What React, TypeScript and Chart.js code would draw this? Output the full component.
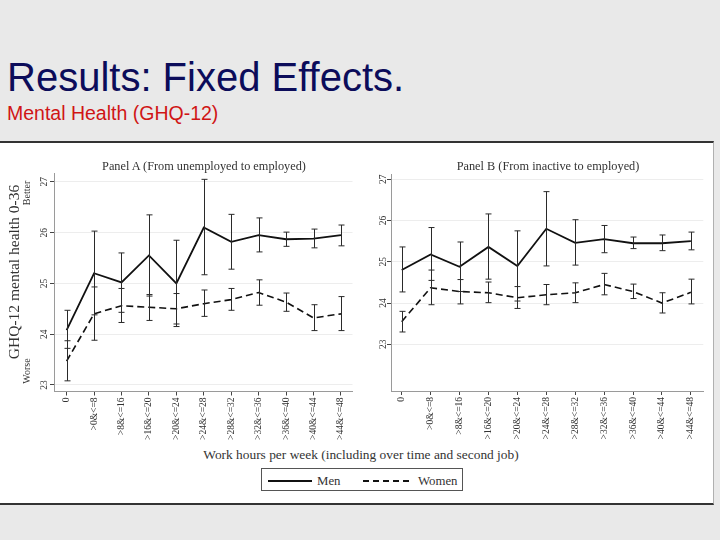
import React, { useEffect, useRef } from "react";
import { Chart, registerables } from "chart.js";

Chart.register(...registerables);

const SERIF = "'Liberation Serif', 'Times New Roman', serif";
const SANS = "'Liberation Sans', Arial, sans-serif";

const hourLabels = [
  "0", ">0&<=8", ">8&<=16", ">16&<=20", ">20&<=24", ">24&<=28",
  ">28&<=32", ">32&<=36", ">36&<=40", ">40&<=44", ">44&<=48",
];
const yTickValues = [23, 24, 25, 26, 27];

// Panel A (From unemployed to employed)
const menA = [24.08, 25.2, 25.02, 25.55, 25.0, 26.1, 25.82, 25.95, 25.87, 25.88, 25.95];
const menALow = [23.72, 24.38, 24.43, 24.75, 24.15, 25.17, 25.28, 25.62, 25.73, 25.7, 25.74];
const menAHigh = [24.47, 26.03, 25.6, 26.35, 25.85, 27.05, 26.36, 26.29, 26.01, 26.07, 26.15];
const womenA = [23.47, 24.4, 24.56, 24.53, 24.5, 24.6, 24.68, 24.82, 24.63, 24.32, 24.4];
const womenALow = [23.08, 23.88, 24.23, 24.27, 24.2, 24.35, 24.47, 24.57, 24.45, 24.07, 24.07];
const womenAHigh = [23.87, 24.93, 24.9, 24.78, 24.8, 24.87, 24.9, 25.07, 24.81, 24.58, 24.74];

// Panel B (From inactive to employed)
const menB = [24.8, 25.18, 24.88, 25.36, 24.9, 25.8, 25.46, 25.55, 25.45, 25.45, 25.5];
const menBLow = [24.27, 24.55, 24.28, 24.58, 24.05, 24.9, 24.92, 25.22, 25.32, 25.27, 25.29];
const menBHigh = [25.36, 25.83, 25.48, 26.16, 25.75, 26.7, 26.02, 25.88, 25.6, 25.65, 25.72];
const womenB = [23.55, 24.37, 24.28, 24.25, 24.13, 24.2, 24.25, 24.45, 24.28, 24.0, 24.26];
const womenBLow = [23.3, 23.96, 23.98, 24.01, 23.87, 23.96, 24.01, 24.2, 24.11, 23.76, 23.98];
const womenBHigh = [23.8, 24.8, 24.57, 24.51, 24.4, 24.45, 24.49, 24.72, 24.46, 24.25, 24.58];

type PanelSpec = {
  men: number[]; menLow: number[]; menHigh: number[];
  women: number[]; womenLow: number[]; womenHigh: number[];
  yMin: number; yMax: number; xMin: number; xMax: number;
  yAxisWidth: number; xAxisHeight: number;
  padTop: number; padRight: number; tickLabelX: number;
};

const panelA: PanelSpec = {
  men: menA, menLow: menALow, menHigh: menAHigh,
  women: womenA, womenLow: womenALow, womenHigh: womenAHigh,
  yMin: 22.87, yMax: 27.165, xMin: -0.46, xMax: 10.42,
  yAxisWidth: 54, xAxisHeight: 53.5, padTop: 23.5, padRight: 7.5, tickLabelX: 44,
};

const panelB: PanelSpec = {
  men: menB, menLow: menBLow, menHigh: menBHigh,
  women: womenB, womenLow: womenBLow, womenHigh: womenBHigh,
  yMin: 21.87, yMax: 27.12, xMin: -0.37, xMax: 10.43,
  yAxisWidth: 31, xAxisHeight: 54, padTop: 24.3, padRight: 11.7, tickLabelX: 23,
};

function buildChart(canvas: HTMLCanvasElement, p: PanelSpec) {
  const toPts = (arr: number[]) => arr.map((v, i) => ({ x: i, y: v }));
  const errorBars = {
    id: "errorBars",
    afterDatasetsDraw(chart: any) {
      const ctx = chart.ctx;
      const xs = chart.scales.x;
      const ys = chart.scales.y;
      ctx.save();
      ctx.strokeStyle = "#2a2a2a";
      ctx.lineWidth = 1;
      const draw = (lo: number[], hi: number[]) =>
        lo.forEach((l, i) => {
          const px = Math.round(xs.getPixelForValue(i)) + 0.5;
          const y1 = ys.getPixelForValue(l);
          const y2 = ys.getPixelForValue(hi[i]);
          ctx.beginPath();
          ctx.moveTo(px, y1);
          ctx.lineTo(px, y2);
          ctx.moveTo(px - 3, y1);
          ctx.lineTo(px + 3, y1);
          ctx.moveTo(px - 3, y2);
          ctx.lineTo(px + 3, y2);
          ctx.stroke();
        });
      draw(p.menLow, p.menHigh);
      draw(p.womenLow, p.womenHigh);
      ctx.restore();
    },
  };
  const yLabels = {
    id: "yLabels",
    afterDraw(chart: any) {
      const ctx = chart.ctx;
      const ys = chart.scales.y;
      ctx.save();
      ctx.fillStyle = "#333";
      ctx.font = `9.5px ${SERIF}`;
      ctx.textAlign = "center";
      ctx.textBaseline = "middle";
      ys.ticks.forEach((t: any) => {
        const py = ys.getPixelForValue(t.value);
        ctx.save();
        ctx.translate(p.tickLabelX, py);
        ctx.rotate(-Math.PI / 2);
        ctx.fillText(String(t.value), 0, 0);
        ctx.restore();
      });
      ctx.restore();
    },
  };
  return new Chart(canvas, {
    type: "line",
    data: {
      datasets: [
        {
          label: "Men", data: toPts(p.men), borderColor: "#111", borderWidth: 1.8,
          pointRadius: 0, fill: false, tension: 0,
        },
        {
          label: "Women", data: toPts(p.women), borderColor: "#111", borderWidth: 1.6,
          borderDash: [7, 4], pointRadius: 0, fill: false, tension: 0,
        },
      ],
    },
    options: {
      responsive: false,
      animation: false,
      devicePixelRatio: 1,
      layout: { padding: { left: 0, top: p.padTop, right: p.padRight, bottom: 0 } },
      plugins: { legend: { display: false }, tooltip: { enabled: false }, title: { display: false } },
      scales: {
        x: {
          type: "linear", min: p.xMin, max: p.xMax,
          afterBuildTicks: (s: any) => { s.ticks = hourLabels.map((_, i) => ({ value: i })); },
          afterFit: (s: any) => { s.height = p.xAxisHeight; },
          ticks: {
            autoSkip: false, minRotation: 90, maxRotation: 90, padding: 2, color: "#333",
            font: { family: SERIF, size: 9.5 },
            callback: (_v: any, i: number) => hourLabels[i],
          },
          grid: { drawOnChartArea: false, drawTicks: true, tickLength: 4, tickColor: "#444" },
          border: { color: "#9a9a9a", width: 1 },
        },
        y: {
          type: "linear", min: p.yMin, max: p.yMax,
          afterBuildTicks: (s: any) => { s.ticks = yTickValues.map((v) => ({ value: v })); },
          afterFit: (s: any) => { s.width = p.yAxisWidth; },
          ticks: { color: "rgba(0,0,0,0)", font: { family: SERIF, size: 9.5 } },
          grid: { color: "#ededed", drawTicks: true, tickLength: 4, tickColor: "#444" },
          border: { color: "#9a9a9a", width: 1 },
        },
      },
    } as any,
    plugins: [errorBars, yLabels],
  });
}

const abs = (s: React.CSSProperties): React.CSSProperties => ({ position: "absolute", whiteSpace: "nowrap", ...s });

function Rot({ text, cx, cy, size }: { text: string; cx: number; cy: number; size: number }) {
  return (
    <div
      style={abs({
        left: cx, top: cy, fontFamily: SERIF, fontSize: size, color: "#333", lineHeight: 1,
        transform: "translate(-50%, -50%) rotate(-90deg)",
      })}
    >
      {text}
    </div>
  );
}

export default function App() {
  const refA = useRef<HTMLCanvasElement>(null);
  const refB = useRef<HTMLCanvasElement>(null);

  useEffect(() => {
    const a = buildChart(refA.current!, panelA);
    const b = buildChart(refB.current!, panelB);
    return () => { a.destroy(); b.destroy(); };
  }, []);

  return (
    <div style={{ position: "absolute", left: 0, top: 0, width: 720, height: 540, background: "#e9e9e9", overflow: "hidden" }}>
      <div style={abs({ left: 7, top: 57, fontFamily: SANS, fontSize: 40, lineHeight: "40px", color: "#0c0c5a" })}>
        Results: Fixed Effects.
      </div>
      <div style={abs({ left: 7, top: 103.5, fontFamily: SANS, fontSize: 19.5, lineHeight: "19.5px", color: "#d01515" })}>
        Mental Health (GHQ-12)
      </div>
      <div
        style={abs({
          left: 0, top: 140.5, width: 714, height: 364, background: "#fff", boxSizing: "border-box",
          borderTop: "2px solid #333", borderBottom: "2px solid #333", borderRight: "1px solid #b0b0b0",
        })}
      />
      <canvas ref={refA} width={360} height={295} style={{ position: "absolute", left: 0, top: 150, width: 360, height: 295 }} />
      <canvas ref={refB} width={355} height={295} style={{ position: "absolute", left: 360, top: 150, width: 355, height: 295 }} />

      <div style={abs({ left: 204, top: 166, transform: "translate(-50%, -50%)", fontFamily: SERIF, fontSize: 12.3, color: "#333" })}>
        Panel A (From unemployed to employed)
      </div>
      <div style={abs({ left: 548, top: 166, transform: "translate(-50%, -50%)", fontFamily: SERIF, fontSize: 12.3, color: "#333" })}>
        Panel B (From inactive to employed)
      </div>

      <Rot text="GHQ-12 mental health 0-36" cx={14} cy={272} size={15.5} />
      <Rot text="Better" cx={27} cy={193} size={10} />
      <Rot text="Worse" cx={27} cy={371} size={10} />

      <div style={abs({ left: 361, top: 455, transform: "translate(-50%, -50%)", fontFamily: SERIF, fontSize: 13.4, color: "#333" })}>
        Work hours per week (including over time and second job)
      </div>

      <div style={abs({ left: 261, top: 468, width: 202, height: 23, border: "1px solid #555", boxSizing: "border-box", background: "#fff" })} />
      <div style={abs({ left: 268, top: 480, width: 44, height: 0, borderTop: "2px solid #111" })} />
      <div style={abs({ left: 317, top: 480.5, transform: "translateY(-50%)", fontFamily: SERIF, fontSize: 12.8, color: "#333" })}>Men</div>
      <div style={abs({ left: 363, top: 480, width: 46, height: 0, borderTop: "2px dashed #111" })} />
      <div style={abs({ left: 418, top: 480.5, transform: "translateY(-50%)", fontFamily: SERIF, fontSize: 12.8, color: "#333" })}>Women</div>
    </div>
  );
}
